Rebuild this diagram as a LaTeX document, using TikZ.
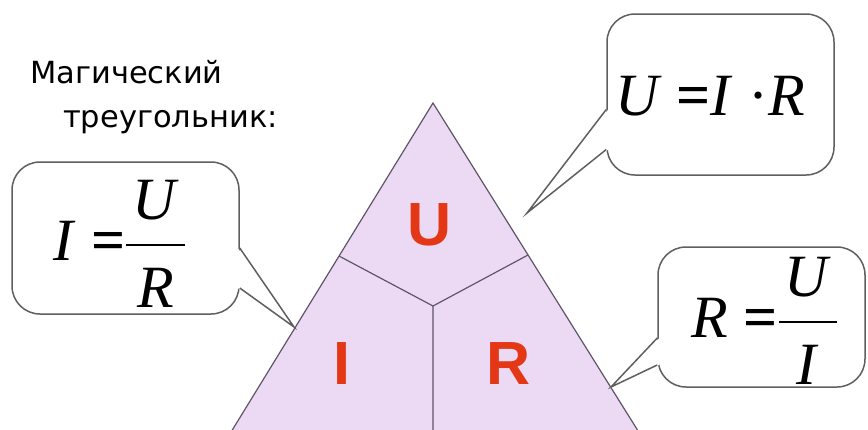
\RequirePackage{fix-cm}
\documentclass[tikz,border=0pt]{standalone}
\usepackage{fontspec}
\setmainfont{Liberation Serif}
\newfontfamily\labelfont{DejaVu Sans}
\newfontfamily\letterfont{Liberation Sans}
\usetikzlibrary{calc}
\definecolor{trifill}{RGB}{236,218,245}
\definecolor{triline}{RGB}{95,85,105}
\definecolor{letterred}{RGB}{228,55,22}
\definecolor{boxline}{RGB}{95,95,95}
\tikzset{
  part/.style={draw=triline, line width=1.2pt, line join=miter},
  bubble/.style={
    draw=boxline,
    fill=white,
    line width=1.5pt,
    rounded corners=28pt,
    inner sep=0pt
  },
  formula/.style={
    font=\fontsize{60}{66}\selectfont,
    anchor=base,
    inner sep=0pt
  },
  tail/.style={draw=boxline, line width=1.5pt, line join=miter},
  letter/.style={
    text=letterred,
    font=\letterfont\bfseries\fontsize{61}{66}\selectfont,
    inner sep=0pt
  },
  caption/.style={
    font=\labelfont\fontsize{30.5}{36}\selectfont,
    anchor=base west,
    inner sep=0pt
  }
}
\newcommand{\ohmeq}{\textbf{=}}
\newcommand{\ohmfrac}[2]{$\displaystyle{\mbox{\hspace{6pt}\textit{#1}\hspace{6pt}}\above 2pt
  \mbox{\raisebox{-6pt}{\textit{#2}}}}$}

\begin{document}
\begin{tikzpicture}[x=1pt, y=-1pt]
  \useasboundingbox (0,0) rectangle (868,429);
  \fill[white] (0,0) rectangle (868,429);
  \clip (0,0) rectangle (868,429);

  \coordinate (apex) at (433,103);
  \coordinate (lbase) at (220,450);
  \coordinate (rbase) at (650,450);
  \coordinate (hub) at (433,306);
  \coordinate (ljoin) at (339,256);
  \coordinate (rjoin) at (528,255);
  \coordinate (bjoin) at (433,450);
  \filldraw[part, fill=trifill] (apex) -- (lbase) -- (rbase) -- cycle;
  \draw[part] (ljoin) -- (hub) -- (rjoin) (hub) -- (bjoin);

  \node[letter] (uletter) at (430,225) {U};
  \node[letter] (iletter) at (342,364) {I};
  \node[letter] (rletter) at (509,364) {R};

  \node[caption] (title1) at (30,83) {Магический};
  \node[caption] (title2) at (63,127) {треугольник:};

  \coordinate (utip) at (527,213);
  \coordinate (itip) at (294,327);
  \coordinate (rtip) at (611,387);

  \node[bubble, minimum width=227pt, minimum height=161pt] (ubox) at (720.5,94.5) {};
  \fill[white] ($(ubox.west)+(2,15)$) -- (utip) -- ($(ubox.west)+(2,55)$) -- cycle;
  \draw[tail] ($(ubox.west)+(0,15)$) -- (utip) -- ($(ubox.west)+(0,55)$);
  \node[formula] (uform) at (710,115) {\textit{U} \ohmeq\textit{I} ·\textit{R}};

  \node[bubble, minimum width=227pt, minimum height=152pt] (ibox) at (125.5,238) {};
  \fill[white] ($(ibox.east)+(-2,10)$) -- (itip) -- ($(ibox.east)+(-2,50)$) -- cycle;
  \draw[tail] ($(ibox.east)+(0,10)$) -- (itip) -- ($(ibox.east)+(0,50)$);
  \node[formula] (iform) at (120,260) {\textit{I} \ohmeq\ohmfrac{U}{R}};

  \node[bubble, minimum width=207pt, minimum height=140pt] (rbox) at (761.5,317) {};
  \fill[white] ($(rbox.west)+(2,21)$) -- (rtip) -- ($(rbox.west)+(2,48)$) -- cycle;
  \draw[tail] ($(rbox.west)+(0,21)$) -- (rtip) -- ($(rbox.west)+(0,48)$);
  \node[formula] (rform) at (765,337) {\textit{R} \ohmeq\ohmfrac{U}{I}};
\end{tikzpicture}
\end{document}
